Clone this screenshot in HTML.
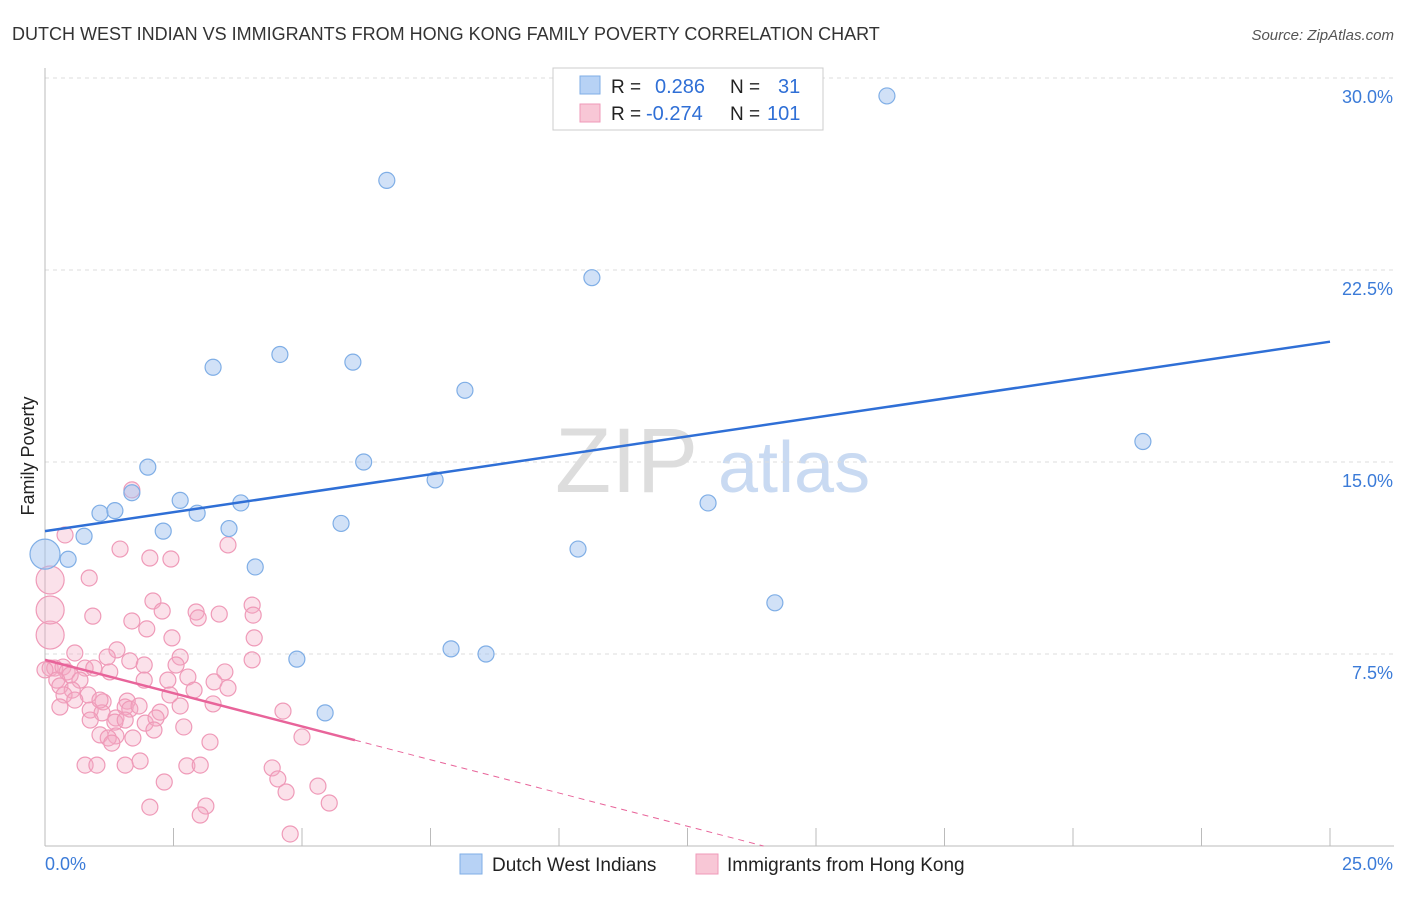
<!DOCTYPE html>
<html><head><meta charset="utf-8"><style>
body{margin:0;background:#fff;font-family:"Liberation Sans",sans-serif;}
svg text{font-family:"Liberation Sans",sans-serif;}
</style></head><body>
<svg id="c" width="1406" height="892" xmlns="http://www.w3.org/2000/svg">
<text x="12" y="40" font-size="18" fill="#333">DUTCH WEST INDIAN VS IMMIGRANTS FROM HONG KONG FAMILY POVERTY CORRELATION CHART</text>
<text x="1394" y="40" font-size="15" fill="#555" text-anchor="end" font-style="italic">Source: ZipAtlas.com</text>
<text x="555" y="492" font-size="92" fill="#ddd" font-family="Liberation Serif">ZIP</text>
<text x="718" y="492" font-size="72" fill="#c9daf2">atlas</text>
<g id="grid"></g>
<g id="axes"></g>
<g id="pts"></g>
<g id="trend"></g>
<text transform="translate(34,456) rotate(-90)" font-size="18" fill="#222" text-anchor="middle">Family Poverty</text>
<g>
<rect x="553" y="68" width="270" height="62" fill="#fff" stroke="#ccc"/>
<rect x="580" y="76" width="20" height="18" fill="#b7d2f5" stroke="#7faee6"/>
<rect x="580" y="104" width="20" height="18" fill="#f8c7d6" stroke="#ef9ab8"/>
<text x="611" y="93" font-size="19" fill="#222">R =</text><text x="655" y="93" font-size="20" fill="#2f6fd6">0.286</text>
<text x="730" y="93" font-size="19" fill="#222">N =</text><text x="778" y="93" font-size="20" fill="#2f6fd6">31</text>
<text x="611" y="120" font-size="19" fill="#222">R =</text><text x="646" y="120" font-size="20" fill="#2f6fd6">-0.274</text>
<text x="730" y="120" font-size="19" fill="#222">N =</text><text x="767" y="120" font-size="20" fill="#2f6fd6">101</text>
</g>
<g>
<rect x="460" y="854" width="22" height="20" fill="#b7d2f5" stroke="#7faee6"/>
<text x="492" y="871" font-size="19" fill="#222">Dutch West Indians</text>
<rect x="696" y="854" width="22" height="20" fill="#f8c7d6" stroke="#ef9ab8"/>
<text x="727" y="871" font-size="19" fill="#222">Immigrants from Hong Kong</text>
</g>
</svg>
<script>
const xTicks=[0,2.5,5,7.5,10,12.5,15,17.5,20,22.5,25];
const yTicks=[7.5,15,22.5,30];
const yTickLabels=["7.5%","15.0%","22.5%","30.0%"];
const blueX=[16.38,6.65,10.64,4.57,3.27,5.99,8.17,21.36,2.0,6.2,7.59,1.69,2.63,3.81,12.9,1.07,1.36,2.96,5.76,2.3,3.58,0.76,10.37,0.45,0,4.09,14.2,7.9,8.58,4.9,5.45];
const blueY=[29.3,26.0,22.2,19.2,18.7,18.9,17.8,15.8,14.8,15.0,14.3,13.8,13.5,13.4,13.4,13.0,13.1,13.0,12.6,12.3,12.4,12.1,11.6,11.2,11.4,10.9,9.5,7.7,7.5,7.3,5.2];
const blueSize=[1,1,1,1,1,1,1,1,1,1,1,1,1,1,1,1,1,1,1,1,1,1,1,1,2,1,1,1,1,1,1];
const pinkX=[0.39,0.86,0.93,1.46,2.04,2.45,1.69,3.56,2.10,2.28,2.94,3.39,4.03,4.05,1.69,1.98,2.47,2.98,4.07,0.10,0.10,0.10,0.10,0.58,1.40,1.21,1.65,1.93,2.63,2.55,3.50,4.03,0.19,0.35,0.43,0.49,0.78,0.95,1.26,0.68,0.23,0.29,0.53,0.84,1.93,2.39,2.78,3.29,3.56,2.90,0.37,0.58,1.13,1.60,0.29,0.88,1.56,1.11,1.38,1.65,1.83,2.24,2.63,3.27,4.63,0.88,1.36,1.56,1.95,2.16,1.07,1.38,1.71,2.12,2.70,3.21,5.00,0.78,1.01,1.56,1.85,2.76,3.02,2.32,4.42,4.53,4.69,5.31,2.04,3.13,3.02,5.53,4.77,1.23,1.30,2.43,1.07,0];
const pinkY=[12.15,10.47,8.98,11.60,11.25,11.21,13.91,11.76,9.57,9.18,9.14,9.06,9.41,9.02,8.79,8.48,8.13,8.91,8.13,8.24,9.22,10.39,6.95,7.54,7.66,7.38,7.23,7.07,7.38,7.07,6.80,7.27,6.95,6.99,6.80,6.68,6.95,6.95,6.80,6.48,6.48,6.25,6.09,5.90,6.48,6.48,6.60,6.41,6.17,6.09,5.90,5.70,5.63,5.66,5.43,5.31,5.43,5.20,5.00,5.35,5.47,5.23,5.47,5.55,5.27,4.92,4.84,4.92,4.80,5.00,4.34,4.30,4.22,4.53,4.65,4.06,4.26,3.16,3.16,3.16,3.32,3.13,3.16,2.50,3.05,2.62,2.11,2.34,1.52,1.56,1.21,1.68,0.47,4.22,4.02,5.90,5.70,6.88];
const pinkBig=[19,20,21];
const blueTrend=[12.3,19.7];
const pinkTrend=[7.27,-0.52];
const pinkSolidEnd=6.03;

const NS="http://www.w3.org/2000/svg";
const X0=45,X1=1330,Y0=846,Y30=78;
const xs=v=>X0+(X1-X0)*v/25;
const ys=v=>Y0-(Y0-Y30)*v/30;
function mk(tag,attrs,parent){const e=document.createElementNS(NS,tag);for(const k in attrs)e.setAttribute(k,attrs[k]);parent.appendChild(e);return e;}
const grid=document.getElementById('grid'),axes=document.getElementById('axes'),pts=document.getElementById('pts'),tr=document.getElementById('trend');
yTicks.forEach((t,i)=>{
 const l=mk('line',{x1:X0,x2:1394,y1:ys(t),y2:ys(t),stroke:'#ddd','stroke-dasharray':'4,4'},grid);
 
 
 const tx=mk('text',{x:1393,y:ys(t)+25,'font-size':18,fill:'#3b7bd8','text-anchor':'end'},axes);
 tx.textContent=yTickLabels[i];
 
 
});
const ya=mk('line',{x1:X0,x2:X0,y1:68,y2:Y0,stroke:'#bbb'},axes);


const xa=mk('line',{x1:X0,x2:1394,y1:Y0,y2:Y0,stroke:'#bbb'},axes);


xTicks.forEach(t=>{
 const l=mk('line',{x1:xs(t),x2:xs(t),y1:Y0,y2:Y0-18,stroke:'#bbb'},axes);
 
 
});
const xl0=mk('text',{x:45,y:870,'font-size':18,fill:'#3b7bd8'},axes);xl0.textContent='0.0%';


const xl1=mk('text',{x:1393,y:870,'font-size':18,fill:'#3b7bd8','text-anchor':'end'},axes);xl1.textContent='25.0%';


pinkX.forEach((v,i)=>{
 const r=pinkBig.includes(i)?14:8;
 const c=mk('circle',{cx:xs(v),cy:ys(pinkY[i]),r:r,fill:'rgba(244,170,195,0.35)',stroke:'#ef9ab8','stroke-width':1.2},pts);
 
 
});
blueX.forEach((v,i)=>{
 const c=mk('circle',{cx:xs(v),cy:ys(blueY[i]),r:blueSize[i]>1?15:8,fill:'rgba(163,196,240,0.5)',stroke:'#7faee6','stroke-width':1.2},pts);
 
 
});
const bl=mk('line',{x1:xs(0),y1:ys(blueTrend[0]),x2:xs(25),y2:ys(blueTrend[1]),stroke:'#2f6fd6','stroke-width':2.5},tr);


const pEnd=-pinkTrend[0]/pinkTrend[1];
const pl=mk('line',{x1:xs(0),y1:ys(pinkTrend[0]),x2:xs(pinkSolidEnd),y2:ys(pinkTrend[0]+pinkTrend[1]*pinkSolidEnd),stroke:'#e8649a','stroke-width':2.5},tr);


const pd=mk('line',{x1:xs(pinkSolidEnd),y1:ys(pinkTrend[0]+pinkTrend[1]*pinkSolidEnd),x2:xs(pEnd),y2:ys(0),stroke:'#e8649a','stroke-width':1,'stroke-dasharray':'6,5'},tr);


</script>
</body></html>
